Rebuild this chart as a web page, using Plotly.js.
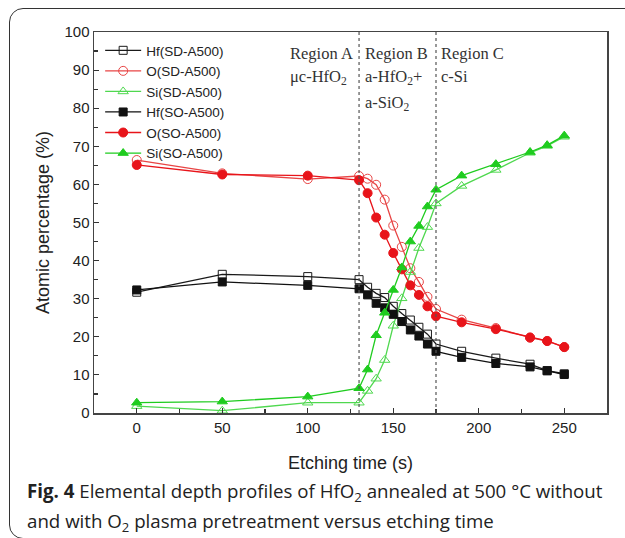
<!DOCTYPE html>
<html>
<head>
<meta charset="utf-8">
<script src="https://cdn.plot.ly/plotly-3.0.1.min.js"></script>
<style>
  html, body { margin: 0; padding: 0; background: #fff; overflow: hidden; }
  #frame { position: absolute; left: 9px; top: 8px; width: 660px; height: 531px;
           border: 1.5px solid #333; border-radius: 14px; box-sizing: border-box; }
  #chart { position: absolute; left: 0; top: 0; width: 625px; height: 538px; }
</style>
</head>
<body>
<div id="frame"></div>
<div id="chart"></div>
<script>
// ---- data ----
const timeS = [0, 50, 100, 130, 135, 140, 145, 150, 155, 160, 165, 170, 175, 190, 210, 230, 240, 250];
const hfSD = [31.7, 36.4, 35.8, 35.0, 33.0, 31.4, 30.3, 28.0, 26.1, 24.4, 22.5, 20.7, 18.1, 16.2, 14.4, 12.8, 11.1, 10.3];
const oSD  = [66.4, 62.9, 61.4, 62.2, 61.5, 59.9, 56.0, 49.2, 43.6, 38.0, 34.4, 30.5, 27.3, 24.5, 22.3, 19.8, 18.9, 17.3];
const siSD = [1.8, 0.6, 2.7, 2.7, 5.8, 9.0, 13.9, 22.9, 30.1, 37.0, 43.3, 48.8, 55.0, 59.6, 63.8, 68.3, 70.1, 72.5];
const hfSO = [32.3, 34.4, 33.5, 32.6, 31.0, 28.8, 27.6, 25.9, 24.0, 21.8, 20.2, 18.1, 16.2, 14.6, 13.0, 12.1, 11.1, 10.1];
const oSO  = [65.1, 62.6, 62.3, 61.1, 57.7, 51.3, 46.8, 42.0, 37.7, 33.5, 31.0, 28.0, 25.4, 23.8, 22.0, 19.8, 18.9, 17.3];
const siSO = [2.7, 3.0, 4.3, 6.5, 11.4, 20.4, 26.3, 32.3, 38.2, 45.0, 49.1, 54.2, 58.6, 62.3, 65.3, 68.5, 70.3, 72.8];
const seriesNames = ['Hf(SD-A500)', 'O(SD-A500)', 'Si(SD-A500)', 'Hf(SO-A500)', 'O(SO-A500)', 'Si(SO-A500)'];
const regionLines = [130, 175];
const xTicks = [0, 50, 100, 150, 200, 250];

const styles = [
  {c: '#1a1a1a', s: 'square-open', z: 8},
  {c: '#e84545', s: 'circle-open', z: 9},
  {c: '#4fd84f', s: 'triangle-up-open', z: 9},
  {c: '#111111', s: 'square', z: 8},
  {c: '#e8141a', s: 'circle', z: 9},
  {c: '#1fcc1f', s: 'triangle-up', z: 9}
];
const ys = [hfSD, oSD, siSD, hfSO, oSO, siSO];

const traces = ys.map((y, i) => ({
  x: timeS, y: y, name: seriesNames[i], type: 'scatter', mode: 'lines+markers',
  line: {color: styles[i].c, width: 1.3},
  marker: {symbol: styles[i].s, size: styles[i].z, color: styles[i].c, line: {color: styles[i].c, width: 1}}
}));

const serif = 'Liberation Serif';
const sans = 'Liberation Sans';
const ann = [];
function addText(x, y, text, anchor) {
  ann.push({xref: 'x', yref: 'y', x: x, y: y, text: text, showarrow: false,
    xanchor: anchor, yanchor: 'middle', font: {family: serif, size: 16.5, color: '#333'}});
}
addText(127.5, 94.4, 'Region A', 'right');
addText(88.5, 88.3, 'μc-HfO<sub>2</sub>', 'left');
addText(132.5, 94.4, 'Region B', 'left');
addText(132.5, 88.3, 'a-HfO<sub>2</sub>+', 'left');
addText(132.5, 81.3, 'a-SiO<sub>2</sub>', 'left');
addText(177, 94.4, 'Region C', 'left');
addText(177, 88.3, 'c-Si', 'left');

ann.push({xref: 'paper', yref: 'paper', x: -0.135, y: -0.208, xanchor: 'left', yanchor: 'middle', showarrow: false,
  text: '<b>Fig. 4</b> Elemental depth profiles of HfO<sub>2</sub> annealed at 500 °C without',
  font: {family: 'Open Sans', size: 18.7, color: '#222'}});
ann.push({xref: 'paper', yref: 'paper', x: -0.135, y: -0.285, xanchor: 'left', yanchor: 'middle', showarrow: false,
  text: 'and with O<sub>2</sub> plasma pretreatment versus etching time',
  font: {family: 'Open Sans', size: 18.7, color: '#222'}});

const shapes = regionLines.map(v => ({type: 'line', xref: 'x', yref: 'paper', x0: v, x1: v, y0: 0, y1: 1,
  line: {color: '#555', width: 1.2, dash: 'dot'}}));

const layout = {
  width: 625, height: 538,
  margin: {l: 94, r: 18, t: 32, b: 125},
  paper_bgcolor: 'rgba(0,0,0,0)', plot_bgcolor: 'rgba(0,0,0,0)',
  font: {family: sans, color: '#222'},
  showlegend: true,
  legend: {x: 0.012, y: 0.992, xanchor: 'left', yanchor: 'top', bgcolor: 'rgba(0,0,0,0)',
    font: {family: sans, size: 13.5, color: '#222'}, itemwidth: 36, tracegroupgap: 0},
  xaxis: {range: [-25, 275], tickvals: xTicks, ticks: 'inside', ticklen: 5, tickwidth: 1.2, tickcolor: '#333',
    minor: {ticks: 'inside', ticklen: 4, dtick: 25, tick0: 0, tickcolor: '#333'},
    showline: true, linecolor: '#444', linewidth: 1.5, mirror: true, showgrid: false, zeroline: false,
    tickfont: {family: sans, size: 15, color: '#222'},
    title: {text: 'Etching time (s)', font: {family: sans, size: 18, color: '#222'}, standoff: 22}},
  yaxis: {range: [0, 100], dtick: 10, ticks: 'inside', ticklen: 5, tickwidth: 1.2, tickcolor: '#333',
    minor: {ticks: 'inside', ticklen: 4, dtick: 5, tickcolor: '#333'},
    showline: true, linecolor: '#444', linewidth: 1.5, mirror: true, showgrid: false, zeroline: false,
    tickfont: {family: sans, size: 15, color: '#222'},
    title: {text: 'Atomic percentage (%)', font: {family: sans, size: 18, color: '#222'}, standoff: 10}},
  annotations: ann,
  shapes: shapes
};

Plotly.newPlot('chart', traces, layout, {displayModeBar: false, staticPlot: true});
</script>
</body>
</html>
